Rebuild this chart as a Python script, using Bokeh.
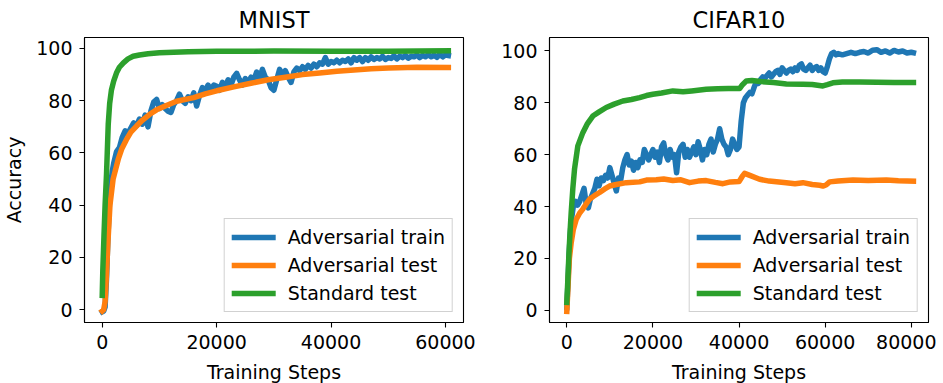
from bokeh.plotting import figure
from bokeh.layouts import row
from bokeh.models import FixedTicker, Range1d
from bokeh.embed import file_html
from bokeh.resources import INLINE

# ---------------- data ----------------
titles = ["MNIST", "CIFAR10"]
series_names = ["Adversarial train", "Adversarial test", "Standard test"]
series_colors = ["#1f77b4", "#ff7f0e", "#2ca02c"]

y_ticks = [0, 20, 40, 60, 80, 100]
y_tick_labels = ["0", "20", "40", "60", "80", "100"]
mnist_x_ticks = [0, 20000, 40000, 60000]
mnist_x_tick_labels = ["0", "20000", "40000", "60000"]
cifar_x_ticks = [0, 20000, 40000, 60000, 80000]
cifar_x_tick_labels = ["0", "20000", "40000", "60000", "80000"]

mnist_adv_train = [
    (0, -0.8), (250, -0.5), (500, 1), (750, 12), (1000, 28), (1250, 40), (1500, 48), (1750, 53),
    (2000, 56), (2500, 60.5), (3000, 62), (3500, 66), (4000, 68.5), (4500, 67.5), (5000, 69.5),
    (5500, 71.5), (6000, 70.5), (6500, 73), (7000, 71), (7500, 74.5), (8000, 70), (8500, 76),
    (9000, 79.5), (9500, 80.5), (10000, 77), (10500, 78.5), (11000, 77), (11500, 76), (12000, 75.5),
    (12500, 78.5), (13000, 80), (13500, 82.5), (14000, 80), (14500, 79), (15000, 81.5), (15500, 80),
    (16000, 83), (16500, 78), (17000, 82), (17500, 85), (18000, 84), (18500, 86), (19000, 84),
    (19500, 86), (20000, 85.5), (20500, 84), (21000, 87), (21500, 85.5), (22000, 88), (22500, 86),
    (23000, 89), (23500, 90.5), (24000, 88), (24500, 86), (25000, 88.5), (25500, 87), (26000, 89),
    (26500, 88), (27000, 91), (27500, 88.5), (28000, 92), (28500, 89), (29000, 88), (29500, 85),
    (30000, 84), (30500, 88), (31000, 92), (31500, 90), (32000, 91.5), (32500, 89), (33000, 87),
    (33500, 91), (34000, 92.5), (34500, 91.5), (35000, 93), (35500, 92), (36000, 93.5), (36500, 92.5),
    (37000, 94), (37500, 93), (38000, 94.5), (38500, 94), (39000, 96.5), (39500, 94), (40000, 95),
    (40500, 94.5), (41000, 95.5), (41500, 94.5), (42000, 95.5), (42500, 95), (43000, 96), (43500, 94.5),
    (44000, 96.5), (44500, 95.5), (45000, 96.5), (45500, 95), (46000, 96.5), (46500, 95.5), (47000, 96.8),
    (47500, 95.8), (48000, 96.5), (48500, 96), (49000, 97), (49500, 95.8), (50000, 96.5), (50500, 96.2),
    (51000, 97.2), (51500, 96), (52000, 97), (52500, 96.5), (53000, 97.3), (53500, 96.3), (54000, 97),
    (54500, 96.8), (55000, 97.5), (55500, 96.5), (56000, 97.3), (56500, 96.8), (57000, 97.6),
    (57500, 96.8), (58000, 97.4), (58500, 96.6), (59000, 97.8), (59500, 96.8), (60000, 97.5), (60500, 97.3),
]
mnist_adv_test = [
    (0, -0.5), (250, 0), (500, 3), (750, 14), (1000, 26), (1350, 40), (1900, 50), (2800, 57.6),
    (3400, 61.5), (4200, 65), (5000, 68), (6000, 70.3), (7000, 72.5), (8300, 74.8), (9500, 76.5),
    (11000, 78), (13000, 79.8), (16000, 81.2), (18000, 82.6), (20000, 83.8), (23000, 85.3),
    (26000, 86.7), (29000, 88), (32000, 89), (35000, 90), (38000, 90.6), (41000, 91.3), (44000, 91.8),
    (47000, 92.2), (50000, 92.5), (55000, 92.8), (60500, 92.7),
]
mnist_std_test = [
    (0, 5.5), (100, 15), (300, 28), (500, 40), (750, 52), (1050, 71), (1300, 79), (1600, 84),
    (2000, 87.5), (2500, 90.7), (3000, 92.8), (3700, 94.5), (4500, 96), (5400, 97), (6500, 97.5),
    (8000, 98), (10000, 98.4), (15000, 98.7), (20000, 98.9), (30000, 99), (40000, 98.9),
    (50000, 98.9), (60500, 99.1),
]

cifar_adv_train = [
    (0, 1), (250, 10), (500, 20), (750, 28), (1000, 34), (1500, 40), (2000, 42), (2500, 40.5),
    (3000, 42), (3500, 44.5), (4000, 47), (4500, 41), (5000, 39.5), (5500, 43), (6000, 45),
    (6500, 47), (7000, 50.5), (7500, 48), (8000, 51), (8500, 50), (9000, 52), (9500, 51),
    (10000, 55), (10500, 52), (11000, 49), (11500, 46), (12000, 51), (12500, 50), (13000, 55),
    (13500, 58), (14000, 60), (14500, 56), (15000, 57.5), (15500, 54), (16000, 57), (16500, 55),
    (17000, 58), (17500, 57), (18000, 62), (18500, 60), (19000, 58), (19500, 60), (20000, 62),
    (20500, 59), (21000, 61), (21500, 57), (22000, 63), (22500, 64.5), (23000, 60), (23500, 58),
    (24000, 62), (24500, 59), (25000, 60), (25500, 53), (26000, 61), (26500, 63), (27000, 64),
    (27500, 59), (28000, 62), (28500, 59), (29000, 61), (29500, 63), (30000, 60), (30500, 65),
    (31000, 62), (31500, 58), (32000, 62), (32500, 60), (33000, 64), (33500, 66), (34000, 61),
    (34500, 64), (35000, 66), (35500, 70), (36000, 66), (36500, 64), (37000, 63), (37500, 60),
    (38000, 62), (38500, 66), (39000, 64), (39500, 62), (40000, 63), (40500, 73), (41000, 80),
    (41500, 82), (42000, 83), (42500, 84), (43000, 83.5), (43500, 86), (44000, 88), (44500, 87.5),
    (45000, 89), (45500, 90), (46000, 89.5), (46500, 90.5), (47000, 91.5), (47500, 90), (48000, 91),
    (48500, 92), (49000, 92.5), (49500, 91), (50000, 93.5), (50500, 92.5), (51000, 91.5),
    (51500, 92.5), (52000, 93), (52500, 92), (53000, 93.5), (53500, 92.5), (54000, 94.5), (54500, 95),
    (55000, 93), (55500, 92.5), (56000, 93.5), (56500, 94.5), (57000, 92.5), (57500, 93.5),
    (58000, 94), (58500, 92.5), (59000, 93.5), (59500, 92), (60000, 91.5), (60500, 94), (61000, 97),
    (61500, 99), (62000, 99.5), (62500, 98.5), (63000, 99), (64000, 98.5), (65000, 99), (66000, 99.5),
    (67000, 99), (68000, 99.5), (69000, 99.8), (70000, 99.2), (71000, 100.3), (72000, 100.5),
    (73000, 99.5), (74000, 100), (75000, 99.2), (76000, 100.2), (77000, 99.6), (78000, 100),
    (79000, 99.2), (80000, 99.5), (80500, 99.3),
]
cifar_adv_test = [
    (0, -0.5), (300, 10), (600, 20), (1020, 26), (1500, 31), (2180, 35), (3000, 37.5), (3720, 39),
    (4500, 41), (5270, 42.8), (6500, 44.3), (7600, 45.4), (8800, 46.8), (9920, 47.9), (11500, 48.5),
    (13800, 49.2), (16900, 49.5), (18500, 50.2), (20770, 50.3), (22500, 50.6), (24630, 50),
    (26500, 50.3), (28500, 49.2), (30500, 49.8), (32380, 50), (34500, 49.3), (36250, 48.8),
    (38000, 49.5), (40000, 49.6), (40700, 51.5), (41290, 52.8), (42500, 52), (44770, 50.5),
    (47000, 49.8), (50970, 49.2), (53000, 48.8), (54830, 49.2), (57000, 48.5), (58720, 48.2),
    (59480, 47.9), (60200, 48.3), (61040, 49.5), (63000, 49.8), (66460, 50.2), (70000, 50),
    (74200, 50.2), (77000, 49.9), (80500, 49.8),
]
cifar_std_test = [
    (0, 3), (250, 12), (500, 22), (750, 30), (1020, 37.7), (1400, 47), (1790, 54.4), (2560, 63.4),
    (3720, 68.5), (4800, 72), (6040, 74.9), (7500, 76.5), (9150, 78.2), (11000, 79.5), (13010, 80.7),
    (15000, 81.3), (16900, 82), (18500, 82.8), (19980, 83.3), (22000, 83.8), (24630, 84.6),
    (27000, 84.3), (29000, 84.6), (32380, 85.2), (35000, 85.4), (37500, 85.5), (40130, 85.5),
    (40800, 87), (41680, 88.4), (43000, 88.6), (45000, 88.2), (48000, 87.8), (51000, 87.3),
    (54830, 87.2), (57000, 87.1), (59480, 86.5), (60500, 87), (61800, 87.7), (64000, 88),
    (68000, 88), (72000, 87.9), (76000, 87.8), (80500, 87.8),
]

FONT = "DejaVu Sans"


def make_panel(title, series, x_range, y_range, x_ticks, x_tick_labels,
               border_left, border_right, ylabel):
    p = figure(
        frame_width=379, frame_height=285,
        min_border_left=border_left, min_border_right=border_right,
        min_border_top=35, min_border_bottom=50,
        x_range=Range1d(*x_range), y_range=Range1d(*y_range),
        output_backend="svg", toolbar_location=None, title=title,
    )
    p.title.align = "center"
    p.title.text_font = FONT
    p.title.text_font_size = "22.5px"
    p.title.text_font_style = "normal"
    p.title.text_color = "black"
    p.title.standoff = 9

    p.xgrid.visible = False
    p.ygrid.visible = False
    p.outline_line_color = "black"
    p.outline_line_width = 1.1
    p.outline_line_alpha = 1
    p.background_fill_color = "white"
    p.border_fill_color = "white"

    for ax in (p.xaxis[0], p.yaxis[0]):
        ax.axis_line_color = "black"
        ax.axis_line_width = 1.1
        ax.major_tick_line_color = "black"
        ax.major_tick_line_width = 1.1
        ax.major_tick_in = 0
        ax.major_tick_out = 5
        ax.minor_tick_line_color = None
        ax.major_label_text_font = FONT
        ax.major_label_text_font_size = "19px"
        ax.major_label_text_color = "black"
        ax.major_label_standoff = 7
        ax.axis_label_text_font = FONT
        ax.axis_label_text_font_size = "19px"
        ax.axis_label_text_font_style = "normal"
        ax.axis_label_text_color = "black"

    p.xaxis[0].ticker = FixedTicker(ticks=x_ticks)
    p.xaxis[0].major_label_overrides = {t: s for t, s in zip(x_ticks, x_tick_labels)}
    p.yaxis[0].ticker = FixedTicker(ticks=y_ticks)
    p.yaxis[0].major_label_overrides = {t: s for t, s in zip(y_ticks, y_tick_labels)}
    p.xaxis[0].axis_label = "Training Steps"
    p.xaxis[0].axis_label_standoff = 9
    if ylabel:
        p.yaxis[0].axis_label = ylabel
        p.yaxis[0].axis_label_standoff = 8

    for pts, name, color in zip(series, series_names, series_colors):
        xs = [a for a, _ in pts]
        ys = [b for _, b in pts]
        p.line(xs, ys, line_color=color, line_width=5.5, line_cap="square",
               line_join="round", legend_label=name)

    lg = p.legend[0]
    lg.location = "bottom_right"
    lg.margin = 10
    lg.padding = 7
    lg.spacing = 6
    lg.glyph_width = 44
    lg.glyph_height = 22
    lg.label_height = 22
    lg.label_standoff = 12
    lg.label_text_font = FONT
    lg.label_text_font_size = "19px"
    lg.label_text_color = "black"
    lg.border_line_color = "#cccccc"
    lg.border_line_alpha = 0.9
    lg.border_line_width = 1.1
    lg.background_fill_alpha = 0.8
    return p


p1 = make_panel(titles[0], [mnist_adv_train, mnist_adv_test, mnist_std_test],
                (-3100, 63150), (-4.9, 104.2), mnist_x_ticks, mnist_x_tick_labels,
                78, 30, "Accuracy")
p2 = make_panel(titles[1], [cifar_adv_train, cifar_adv_test, cifar_std_test],
                (-4020, 84000), (-4.75, 105.2), cifar_x_ticks, cifar_x_tick_labels,
                56, 8, None)

layout = row(p1, p2)
open("out.html", "w").write(file_html(layout, INLINE))
